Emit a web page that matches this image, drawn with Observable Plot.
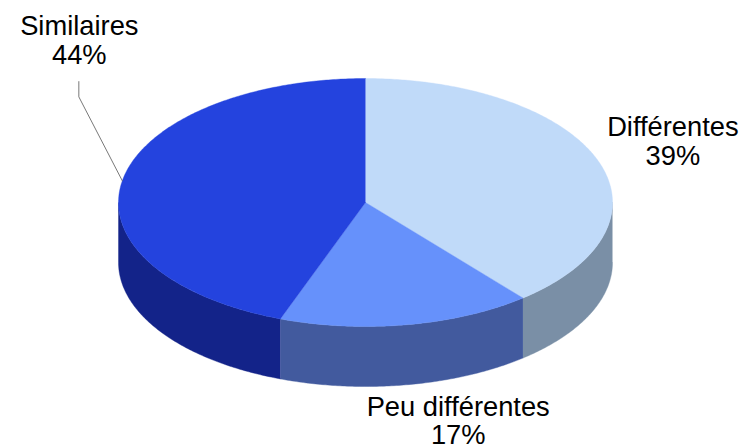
<!DOCTYPE html>
<html>
<head>
<meta charset="utf-8">
<script src="https://cdn.jsdelivr.net/npm/d3@7"></script>
<script src="https://cdn.jsdelivr.net/npm/@observablehq/plot@0.6"></script>
<style>html,body{margin:0;padding:0;background:#fff}svg{display:block}</style>
</head>
<body>
<div id="chart"></div>
<script>
const categories = ["Différentes", "Peu différentes", "Similaires"];
const shares = [39, 16.6, 44.4];
const topColors = ["#c0daf9", "#6691fb", "#2443de"];
const sideColors = ["#7a8fa6", "#425a9e", "#132389"];
// label offsets from the rim midpoint of each slice, in pixels
const labelDx = [75, 51, -43];
const labelDy = [-19, 96, -141];

const depth = 0.484; // pie thickness in units of the vertical radius
const rim = (t) => ({x: Math.sin(t), y: Math.cos(t)});
const arc = (a, b) => {
  const n = Math.max(2, Math.ceil(Math.abs(b - a) / 0.01));
  return d3.range(n + 1).map((i) => rim(a + (b - a) * i / n));
};
const TAU = 2 * Math.PI;
let acc = 0;
const slices = categories.map((name, i) => {
  const a = acc / 100 * TAU;
  acc += shares[i];
  const b = acc / 100 * TAU;
  return {name, share: shares[i], a, b, mid: (a + b) / 2};
});

const topRows = slices.flatMap((s) =>
  [{x: 0, y: 0}, ...arc(s.a, s.b)].map((p) => ({...p, key: s.name + " top"})));
const sideRows = slices.flatMap((s) => {
  const a = Math.max(s.a, Math.PI / 2), b = Math.min(s.b, 3 * Math.PI / 2);
  if (b <= a) return [];
  const upper = arc(a, b);
  const lower = upper.map((p) => ({x: p.x, y: p.y - depth})).reverse();
  return [...upper, ...lower].map((p) => ({...p, key: s.name + " side"}));
});
const labels = slices.map((s, i) => ({
  ...rim(s.mid),
  text: `${s.name}\n${Math.round(s.share)}%`,
  dx: labelDx[i],
  dy: labelDy[i]
}));

const anchor = rim(slices[2].mid);
const leader = [
  anchor,
  {x: anchor.x - 0.176, y: anchor.y + 0.677},
  {x: anchor.x - 0.176, y: anchor.y + 0.80}
];

const plot = Plot.plot({
  width: 744,
  height: 444,
  margin: 0,
  style: {background: "#fff", overflow: "hidden"},
  x: {domain: [-1, 1], range: [118, 612], axis: null},
  y: {domain: [-1, 1], range: [326, 78], axis: null},
  color: {
    domain: categories.flatMap((c) => [c + " top", c + " side"]),
    range: categories.flatMap((c, i) => [topColors[i], sideColors[i]])
  },
  marks: [
    Plot.line(sideRows, {x: "x", y: "y", z: "key", fill: "key", stroke: "key", strokeWidth: 0.4}),
    Plot.line(topRows, {x: "x", y: "y", z: "key", fill: "key", stroke: "key", strokeWidth: 0.4}),
    Plot.line(leader, {x: "x", y: "y", stroke: "#555", strokeWidth: 0.8}),
    ...labels.map((l) => Plot.text([l], {
      x: "x", y: "y", text: "text", dx: l.dx, dy: l.dy,
      fontFamily: "Liberation Sans", fontSize: 27.3, lineHeight: 1.06,
      fill: "#000", textAnchor: "middle"
    }))
  ]
});
document.getElementById("chart").append(plot);
</script>
</body>
</html>
